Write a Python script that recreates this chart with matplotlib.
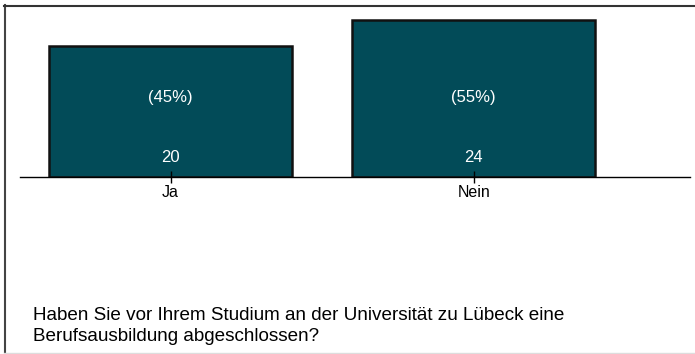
import matplotlib
matplotlib.use("Agg")
import matplotlib.pyplot as plt
from matplotlib.lines import Line2D

plt.rcParams["font.family"] = ["Liberation Sans", "DejaVu Sans"]

categories = ["Ja", "Nein"]
counts = [20, 24]
percents = ["(45%)", "(55%)"]
question = ("Haben Sie vor Ihrem Studium an der Universität zu Lübeck eine\n"
            "Berufsausbildung abgeschlossen?")

W, H = 695, 354
fig = plt.figure(figsize=(W / 100, H / 100), dpi=100)

# axes: baseline at y=177px, spans x 20..690
ax = fig.add_axes([20 / W, 1 - 177 / H, 670 / W, 167 / H])
x = list(range(len(categories)))
bars = ax.bar(x, counts, width=0.8, color="#024b58", edgecolor="#111111", linewidth=1.8)
ax.set_xlim(-0.497, 1.714)
ax.set_ylim(0, 167 / 6.53)

for b, n, p in zip(bars, counts, percents):
    cx = b.get_x() + b.get_width() / 2
    ax.text(cx, 3.0, str(n), color="white", ha="center", va="center", fontsize=12)
    ax.text(cx, 12.2, p, color="white", ha="center", va="center", fontsize=12)

for s in ["top", "left", "right"]:
    ax.spines[s].set_visible(False)
ax.spines["bottom"].set_linewidth(1.0)
ax.set_yticks([])
ax.set_xticks(x)
ax.set_xticklabels(categories, fontsize=11.5)
ax.tick_params(axis="x", direction="inout", length=9, width=1, pad=1)

# frame lines around the panel
fig.add_artist(Line2D([4.5 / W, 4.5 / W], [1 - 5 / H, 1 - 352 / H], color="#444444", lw=1.5))
fig.add_artist(Line2D([4 / W, 1], [1 - 5.5 / H, 1 - 5.5 / H], color="#333333", lw=1.5))
fig.add_artist(Line2D([4 / W, 1], [1 - 352.5 / H, 1 - 352.5 / H], color="#dddddd", lw=1))

fig.text(33 / W, 1 - 326 / H, question, fontsize=13.6, ha="left", va="center",
         linespacing=1.38)

fig.savefig("out.png", dpi=100)
